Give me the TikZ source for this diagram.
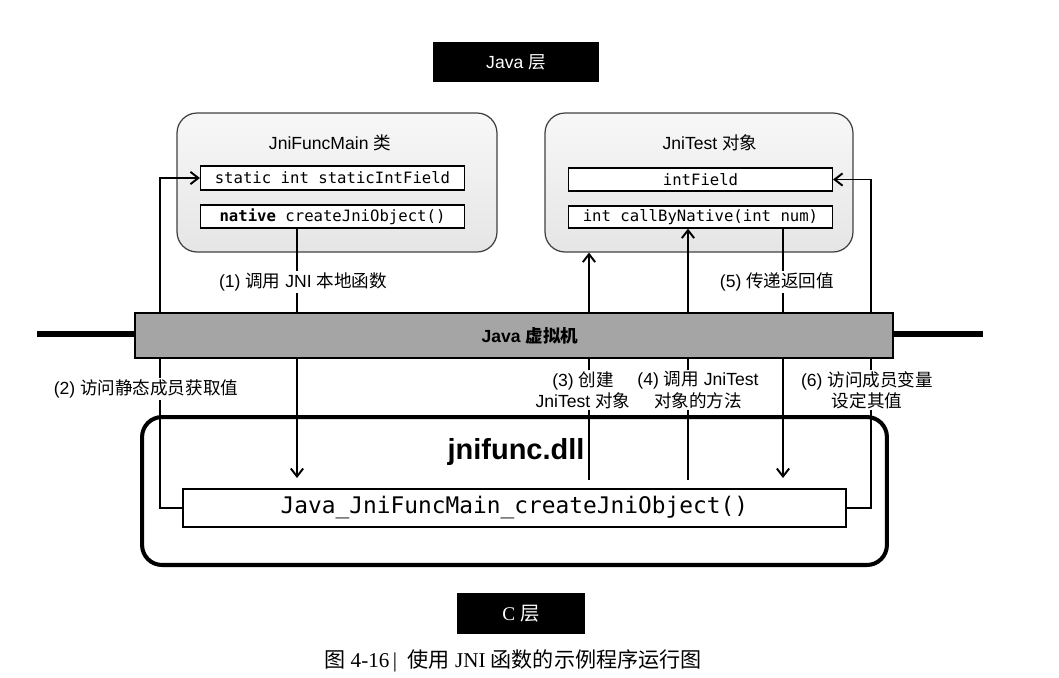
\documentclass[tikz,border=0pt]{standalone}
\usepackage{fontspec}
\setmainfont{Liberation Sans}
\setmonofont{DejaVu Sans Mono}
\newfontfamily\cjk{Noto Sans CJK SC}
\newfontfamily\capserif{Liberation Serif}
\newcommand{\zh}[1]{{\cjk #1}}
\usetikzlibrary{arrows.meta}
\definecolor{vmgray}{RGB}{165,165,165}
\tikzset{
  classbox/.style={draw=black!75, line width=0.7pt, rounded corners=0.4cm, top color=gray!6, bottom color=gray!20, minimum width=#1, minimum height=2.78cm, inner sep=0pt},
  member/.style={draw, fill=white, line width=0.7pt, minimum width=5.28cm, inner sep=0pt, font=\ttfamily\fontsize{8.9}{10}\selectfont},
  flow/.style={line width=1.1pt, -{Straight Barb[length=4.5pt,width=7pt]}},
  note/.style={fill=white, inner sep=1pt, align=center, font=\fontsize{10}{12}\selectfont},
  layer/.style={fill=black, text=white, inner sep=0pt},
}
\begin{document}
\begin{tikzpicture}[x=0.02cm, y=-0.02cm]
    \useasboundingbox (0,0) rectangle (1059,677);
    % layers and caption
    \node[layer, minimum width=3.32cm, minimum height=0.8cm, font=\fontsize{10}{12}\selectfont] (javalayer) at (516,62) {Java \zh{层}};
    \node[layer, minimum width=2.56cm, minimum height=0.82cm, font=\capserif\fontsize{11}{13}\selectfont] (clayer) at (521,613.5) {C \zh{层}};
    \node[font=\capserif\fontsize{12}{14}\selectfont] (caption) at (513,661) {\zh{图} 4-16\,|\ \ \zh{使用} JNI \zh{函数的示例程序运行图}};
    % native library
    \node[draw, line width=2.3pt, rounded corners=0.4cm, minimum width=14.9cm, minimum height=2.96cm] (dll) at (514.5,491) {};
    \node[font=\bfseries\fontsize{16.5}{18}\selectfont] (dllname) at (516,452) {jnifunc.dll};
    \node[draw, fill=white, line width=0.8pt, minimum width=13.26cm, minimum height=0.76cm, font=\ttfamily\fontsize{13}{15}\selectfont] (fn) at (514.5,508) {Java\_JniFuncMain\_createJniObject()};
    % java side
    \node[classbox=6.4cm] (jfm) at (337,182.5) {};
    \node[font=\fontsize{10}{12}\selectfont] (jfmname) at (330,143) {JniFuncMain \zh{类}};
    \node[member, minimum height=0.48cm] (sfield) at (332.5,178) {static int staticIntField};
    \node[member, minimum height=0.46cm] (nmethod) at (332.5,216.5) {\textbf{native} createJniObject()};
    \node[classbox=6.16cm] (jt) at (699,182.5) {};
    \node[font=\fontsize{10}{12}\selectfont] (jtname) at (710,143) {JniTest \zh{对象}};
    \node[member, minimum height=0.46cm] (ifield) at (700.5,179.5) {intField};
    \node[member, minimum height=0.44cm] (cbn) at (700.5,217) {int callByNative(int num)};
    % calls
    \coordinate (c1) at (297,478);
    \coordinate (c3) at (589,480);
    \coordinate (c4) at (688,480);
    \coordinate (c5) at (783,478);
    \draw[flow] (c1 |- nmethod.south) -- (c1);
    \draw[flow] (fn.west) -- ++(-22,0) |- (sfield.west);
    \draw[flow] (c3) -- (c3 |- jt.south);
    \draw[flow] (c4) -- (c4 |- cbn.south);
    \draw[flow] (c5 |- cbn.south) -- (c5);
    \draw[flow] (fn.east) -- ++(24,0) |- (ifield.east);
    \node[note] (l1) at (303,282) {(1) \zh{调用} JNI \zh{本地函数}};
    \node[note] (l2) at (146,389) {(2) \zh{访问静态成员获取值}};
    \node[note] (l3) at (583,390) {(3) \zh{创建}\\JniTest \zh{对象}};
    \node[note] (l4) at (698,390) {(4) \zh{调用} JniTest\\\zh{对象的方法}};
    \node[note] (l5) at (777,282) {(5) \zh{传递返回值}};
    \node[note] (l6) at (867,390) {(6) \zh{访问成员变量}\\\zh{设定其值}};
    % virtual machine
    \coordinate (wl) at (37,334);
    \coordinate (wr) at (983,334);
    \node[draw, line width=1.5pt, fill=vmgray, minimum width=15.16cm, minimum height=0.9cm] (jvm) at (514,335.5) {};
    \node[font=\bfseries\fontsize{10}{12}\selectfont] (jvmname) at (530,336) {Java \zh{虚拟机}};
    \draw[line width=3pt] (wl) -- (wl -| jvm.west);
    \draw[line width=3pt] (jvm.east |- wr) -- (wr);
\end{tikzpicture}
\end{document}
